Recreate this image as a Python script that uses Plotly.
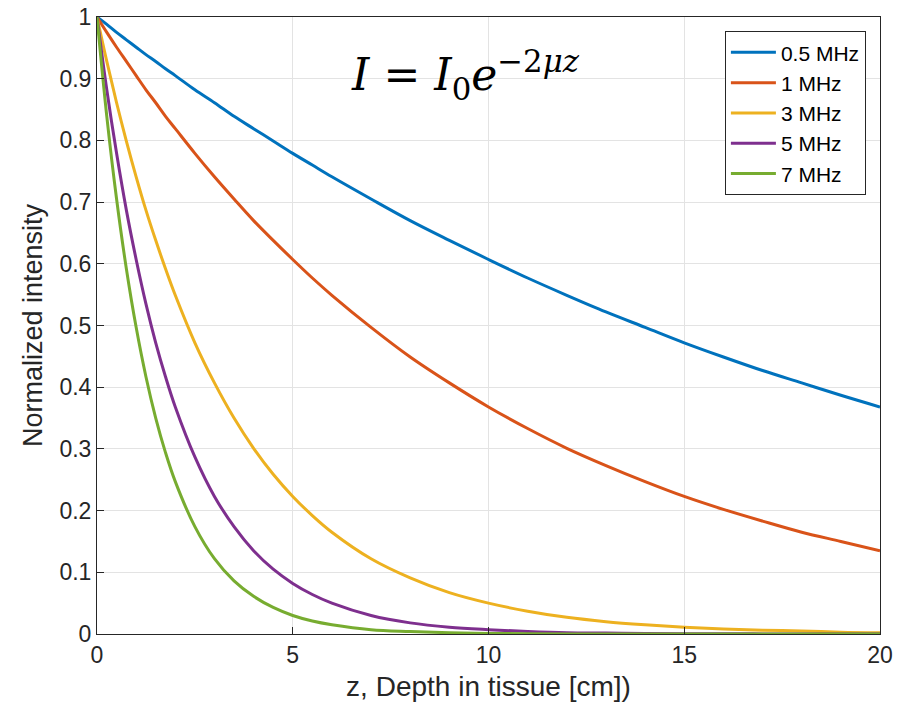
import plotly.graph_objects as go

# Depth samples (cm) and normalized intensity
z = [0, 0.25, 0.5, 0.75, 1, 1.25, 1.5, 1.75, 2, 2.5, 3, 3.5, 4, 4.5, 5, 5.5, 6,
     7, 8, 9, 10, 11, 12, 13, 14, 15, 16, 17, 18, 19, 20]

i_05 = [1, 0.988, 0.975, 0.963, 0.951, 0.939, 0.928, 0.916, 0.905, 0.882, 0.861, 0.839, 0.819, 0.799, 0.779, 0.760, 0.741,
        0.705, 0.670, 0.638, 0.607, 0.577, 0.549, 0.522, 0.497, 0.472, 0.449, 0.427, 0.407, 0.387, 0.368]
i_1 = [1, 0.975, 0.951, 0.928, 0.905, 0.882, 0.861, 0.839, 0.819, 0.779, 0.741, 0.705, 0.670, 0.638, 0.607, 0.577, 0.549,
       0.497, 0.449, 0.407, 0.368, 0.333, 0.301, 0.273, 0.247, 0.223, 0.202, 0.183, 0.165, 0.150, 0.135]
i_3 = [1, 0.928, 0.861, 0.799, 0.741, 0.687, 0.638, 0.592, 0.549, 0.472, 0.407, 0.350, 0.301, 0.259, 0.223, 0.192, 0.165,
       0.122, 0.091, 0.067, 0.050, 0.037, 0.027, 0.020, 0.015, 0.011, 0.008, 0.006, 0.005, 0.003, 0.002]
i_5 = [1, 0.882, 0.779, 0.687, 0.607, 0.535, 0.472, 0.417, 0.368, 0.287, 0.223, 0.174, 0.135, 0.105, 0.082, 0.064, 0.050,
       0.030, 0.018, 0.011, 0.007, 0.004, 0.002, 0.0015, 0.001, 0.0006, 0.0003, 0.0002, 0.0001, 0.0001, 0.0]
i_7 = [1, 0.839, 0.705, 0.592, 0.497, 0.417, 0.350, 0.294, 0.247, 0.174, 0.122, 0.086, 0.061, 0.043, 0.030, 0.021, 0.015,
       0.007, 0.004, 0.002, 0.001, 0.0005, 0.0002, 0.0001, 0.0, 0.0, 0.0, 0.0, 0.0, 0.0, 0.0]

series_names = ["0.5 MHz", "1 MHz", "3 MHz", "5 MHz", "7 MHz"]
series_values = [i_05, i_1, i_3, i_5, i_7]
colors = ["#0072BD", "#D95319", "#EDB120", "#7E2F8E", "#77AC30"]

x_ticks = [0, 5, 10, 15, 20]
y_ticks = [0, 0.1, 0.2, 0.3, 0.4, 0.5, 0.6, 0.7, 0.8, 0.9, 1]
y_tick_labels = ["0", "0.1", "0.2", "0.3", "0.4", "0.5", "0.6", "0.7", "0.8", "0.9", "1"]

FONT = "Liberation Sans, Arial, Helvetica, sans-serif"

fig = go.Figure()
for name, vals, c in zip(series_names, series_values, colors):
    fig.add_trace(go.Scatter(
        x=z, y=vals, name=name, mode="lines",
        line=dict(color=c, width=3, shape="spline", smoothing=1.0),
    ))

axis_common = dict(
    showline=True, linecolor="#262626", linewidth=1, mirror=True,
    ticks="inside", ticklen=7, tickcolor="#262626",
    showgrid=True, gridcolor="#E3E3E3", gridwidth=1,
    zeroline=False, automargin=False,
    tickfont=dict(family=FONT, size=23, color="#262626"),
)

fig.update_layout(
    width=897, height=708,
    margin=dict(l=97, r=17, t=17, b=74),
    paper_bgcolor="white", plot_bgcolor="white",
    font=dict(family=FONT, color="#262626"),
    xaxis=dict(
        range=[0, 20], tickvals=x_ticks, ticktext=[str(t) for t in x_ticks],
        title=dict(text="z, Depth in tissue [cm])", font=dict(size=28, color="#262626"), standoff=9),
        **axis_common,
    ),
    yaxis=dict(
        range=[0, 1], tickvals=y_ticks, ticktext=y_tick_labels,
        title=dict(text="Normalized intensity", font=dict(size=27, color="#262626"), standoff=8),
        **axis_common,
    ),
    legend=dict(
        x=0.982, y=0.977, xanchor="right", yanchor="top",
        bgcolor="white", bordercolor="#262626", borderwidth=1,
        font=dict(family=FONT, size=21, color="#000000"),
        tracegroupgap=0, itemwidth=45,
    ),
    annotations=[dict(
        x=0.47, y=0.906, xref="paper", yref="paper", xanchor="center", yanchor="middle",
        text="<i>I</i> = <i>I</i><sub>0</sub><i>e</i><sup>−2<i>μz</i></sup>",
        showarrow=False,
        font=dict(family="DejaVu Serif, Liberation Serif, serif", size=44, color="#000000"),
    )],
)

fig.write_html("out.html")
